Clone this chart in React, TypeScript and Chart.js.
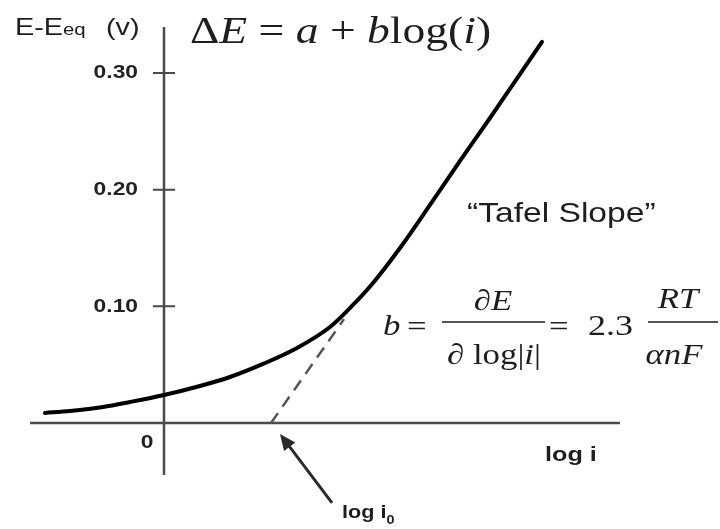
import React, { useEffect, useRef } from 'react';
import { Chart, registerables } from 'chart.js';

Chart.register(...registerables);

// ---- data ----
const logI = [-1.19, -0.94, -0.61, -0.34, 0, 0.36, 0.66, 0.99, 1.33, 1.66, 1.88, 2.09, 2.36, 2.66, 2.96, 3.26, 3.56, 3.78];
const deltaE = [0.0086, 0.0103, 0.0137, 0.018, 0.024, 0.0317, 0.0394, 0.0506, 0.0643, 0.0823, 0.1003, 0.12, 0.15, 0.1869, 0.2246, 0.2614, 0.2991, 0.3266];
const tafelLogI = [1.07, 1.8];
const tafelE = [0, 0.089];
const yTickValues = [0.1, 0.2, 0.3];
const yTickLabels = ['0.10', '0.20', '0.30'];
const xZeroLabel = '0';
const xAxisLabel = 'log i';
const i0Label = 'log i';
const i0Sub = '0';
const slopeLabel = '\u201CTafel Slope\u201D';

const X_MIN = -1.34;
const X_MAX = 4.56;
const Y_MIN = -0.0446;
const Y_MAX = 0.3394;

const SANS = '"Liberation Sans", Arial, sans-serif';
const SERIF = '"Liberation Serif", "Times New Roman", serif';
const SX = 1.2;

type Run = { t: string; f: string; dy?: number };

function runsWidth(ctx: CanvasRenderingContext2D, runs: Run[]) {
  let w = 0;
  for (const r of runs) {
    ctx.font = r.f;
    w += ctx.measureText(r.t).width;
  }
  return w * SX;
}

function drawRuns(ctx: CanvasRenderingContext2D, runs: Run[], x: number, y: number, align: 'left' | 'center' | 'right' = 'left', baseline: CanvasTextBaseline = 'alphabetic') {
  const w = runsWidth(ctx, runs);
  let cx = align === 'center' ? x - w / 2 : align === 'right' ? x - w : x;
  ctx.textAlign = 'left';
  ctx.textBaseline = baseline;
  for (const r of runs) {
    ctx.font = r.f;
    ctx.save();
    ctx.translate(cx, y + (r.dy || 0));
    ctx.scale(SX, 1);
    ctx.fillText(r.t, 0, 0);
    ctx.restore();
    cx += ctx.measureText(r.t).width * SX;
  }
}

const decorPlugin = {
  id: 'tafelDecor',
  beforeDatasetsDraw(chart: any) {
    const ctx: CanvasRenderingContext2D = chart.ctx;
    const xs = chart.scales.x;
    const ys = chart.scales.y;
    const area = chart.chartArea;
    const x0 = xs.getPixelForValue(0);
    const y0 = ys.getPixelForValue(0);
    ctx.save();
    ctx.strokeStyle = '#4a4a4a';
    ctx.lineWidth = 2.5;
    ctx.beginPath();
    ctx.moveTo(area.left, y0);
    ctx.lineTo(area.right, y0);
    ctx.moveTo(x0, area.top);
    ctx.lineTo(x0, area.bottom);
    ctx.stroke();
    // crossing tick marks
    ctx.lineWidth = 2;
    ctx.beginPath();
    yTickValues.forEach((v) => {
      const py = ys.getPixelForValue(v);
      ctx.moveTo(x0 - 11, py);
      ctx.lineTo(x0 + 11, py);
    });
    ctx.stroke();
    ctx.fillStyle = '#222';
    yTickValues.forEach((v, i) => {
      const py = ys.getPixelForValue(v);
      drawRuns(ctx, [{ t: yTickLabels[i], f: `bold 19px ${SANS}` }], x0 - 26, py, 'right', 'middle');
    });
    drawRuns(ctx, [{ t: xZeroLabel, f: `bold 19px ${SANS}` }], x0 - 17, y0 + 20, 'center', 'middle');
    ctx.restore();
  },
  afterDatasetsDraw(chart: any) {
    const ctx: CanvasRenderingContext2D = chart.ctx;
    const xs = chart.scales.x;
    const ys = chart.scales.y;
    const y0 = ys.getPixelForValue(0);
    const area = chart.chartArea;
    ctx.save();
    ctx.fillStyle = '#1e1e1e';

    // y axis title
    drawRuns(ctx, [
      { t: 'E-E', f: `24px ${SANS}` },
      { t: 'eq', f: `17px ${SANS}` },
    ], 15, 35);
    drawRuns(ctx, [{ t: '(v)', f: `24px ${SANS}` }], 106, 35);

    // x axis label
    drawRuns(ctx, [{ t: xAxisLabel, f: `bold 21px ${SANS}` }], area.right - 75, y0 + 38);

    // formula ΔE = a + b log(i)
    const F1 = 38;
    drawRuns(ctx, [
      { t: '\u0394', f: `${F1}px ${SERIF}` },
      { t: 'E', f: `italic ${F1}px ${SERIF}` },
      { t: ' = ', f: `${F1}px ${SERIF}` },
      { t: 'a', f: `italic ${F1}px ${SERIF}` },
      { t: ' + ', f: `${F1}px ${SERIF}` },
      { t: 'b', f: `italic ${F1}px ${SERIF}` },
      { t: 'log(', f: `${F1}px ${SERIF}` },
      { t: 'i', f: `italic ${F1}px ${SERIF}` },
      { t: ')', f: `${F1}px ${SERIF}` },
    ], 190, 43);

    // Tafel slope label
    drawRuns(ctx, [{ t: slopeLabel, f: `28px ${SANS}` }], 467, 222);

    // b = dE / dlog|i| = 2.3 RT/anF
    const F2 = 29;
    drawRuns(ctx, [{ t: 'b', f: `italic ${F2}px ${SERIF}` }], 383, 335);
    drawRuns(ctx, [{ t: '=', f: `${F2}px ${SERIF}` }], 407, 336);
    drawRuns(ctx, [
      { t: '\u2202', f: `italic ${F2}px ${SERIF}` },
      { t: 'E', f: `italic ${F2}px ${SERIF}` },
    ], 493, 310, 'center');
    drawRuns(ctx, [
      { t: '\u2202', f: `${F2}px ${SERIF}` },
      { t: ' log', f: `${F2}px ${SERIF}` },
      { t: '|', f: `${F2}px ${SERIF}` },
      { t: 'i', f: `italic ${F2}px ${SERIF}` },
      { t: '|', f: `${F2}px ${SERIF}` },
    ], 494, 364, 'center');
    drawRuns(ctx, [{ t: '=', f: `${F2}px ${SERIF}` }], 549, 336);
    drawRuns(ctx, [{ t: '2.3', f: `30px ${SERIF}` }], 588, 335);
    drawRuns(ctx, [{ t: 'RT', f: `italic ${F2}px ${SERIF}` }], 678, 308, 'center');
    drawRuns(ctx, [{ t: '\u03B1nF', f: `italic ${F2}px ${SERIF}` }], 674, 364, 'center');
    ctx.strokeStyle = '#1e1e1e';
    ctx.lineWidth = 1.6;
    ctx.beginPath();
    ctx.moveTo(442, 322);
    ctx.lineTo(545, 322);
    ctx.moveTo(648, 322);
    ctx.lineTo(718, 322);
    ctx.stroke();

    // arrow pointing at log i0
    const ix = xs.getPixelForValue(tafelLogI[0]);
    const tipX = ix + 9;
    const tipY = y0 + 11;
    const tailX = tipX + 52;
    const tailY = tipY + 69;
    const ang = Math.atan2(tipY - tailY, tipX - tailX);
    ctx.strokeStyle = '#2a2a2a';
    ctx.lineWidth = 3;
    ctx.beginPath();
    ctx.moveTo(tailX, tailY);
    ctx.lineTo(tipX + Math.cos(ang + Math.PI) * 8, tipY + Math.sin(ang + Math.PI) * 8);
    ctx.stroke();
    ctx.fillStyle = '#2a2a2a';
    ctx.beginPath();
    ctx.moveTo(tipX, tipY);
    ctx.lineTo(tipX - 16 * Math.cos(ang) + 7 * Math.sin(ang), tipY - 16 * Math.sin(ang) - 7 * Math.cos(ang));
    ctx.lineTo(tipX - 16 * Math.cos(ang) - 7 * Math.sin(ang), tipY - 16 * Math.sin(ang) + 7 * Math.cos(ang));
    ctx.closePath();
    ctx.fill();

    ctx.fillStyle = '#1e1e1e';
    drawRuns(ctx, [
      { t: i0Label, f: `bold 18px ${SANS}` },
      { t: i0Sub, f: `bold 12px ${SANS}`, dy: 6 },
    ], tailX + 10, tailY + 15);
    ctx.restore();
  },
};

export default function App() {
  const ref = useRef<HTMLCanvasElement | null>(null);
  useEffect(() => {
    if (!ref.current) return;
    const chart = new Chart(ref.current, {
      type: 'line',
      data: {
        datasets: [
          {
            label: 'ΔE',
            data: logI.map((x, i) => ({ x, y: deltaE[i] })),
            borderColor: '#000',
            borderWidth: 4,
            pointRadius: 0,
            cubicInterpolationMode: 'monotone',
            borderCapStyle: 'round',
            fill: false,
          },
          {
            label: 'Tafel extrapolation',
            data: tafelLogI.map((x, i) => ({ x, y: tafelE[i] })),
            borderColor: '#555',
            borderWidth: 2.5,
            borderDash: [12, 8],
            pointRadius: 0,
            fill: false,
          },
        ],
      },
      options: {
        animation: false,
        responsive: true,
        maintainAspectRatio: false,
        layout: { padding: { left: 30, right: 100, top: 27, bottom: 54 } },
        plugins: { legend: { display: false }, tooltip: { enabled: false } },
        scales: {
          x: { type: 'linear', min: X_MIN, max: X_MAX, display: false },
          y: { type: 'linear', min: Y_MIN, max: Y_MAX, display: false },
        },
      },
      plugins: [decorPlugin],
    } as any);
    return () => chart.destroy();
  }, []);
  return (
    <div style={{ position: 'absolute', left: 0, top: 0, width: 720, height: 529, background: '#fff' }}>
      <canvas ref={ref} />
    </div>
  );
}
